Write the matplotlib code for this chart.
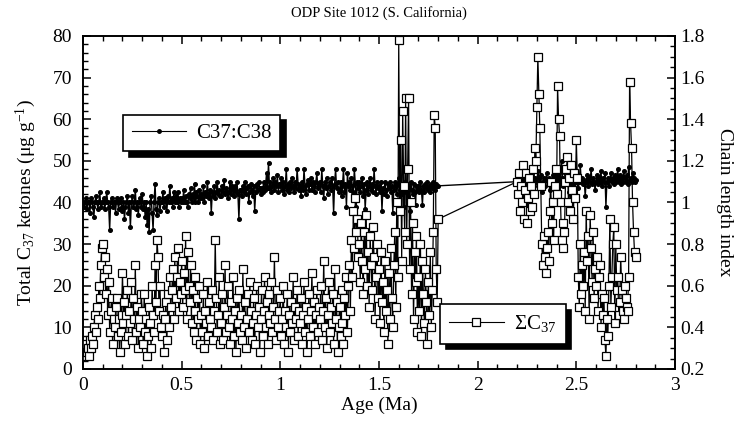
"""ODP Site 1012 alkenone record: total C37 ketones and C37:C38 chain length index."""
import matplotlib
matplotlib.use("Agg")
import matplotlib.pyplot as plt
from matplotlib.ticker import MultipleLocator
from matplotlib.lines import Line2D

plt.rcParams["font.family"] = ["Liberation Serif", "DejaVu Serif"]
plt.rcParams["mathtext.fontset"] = "custom"
plt.rcParams["mathtext.rm"] = "Liberation Serif"
plt.rcParams["mathtext.it"] = "Liberation Serif:italic"
plt.rcParams["mathtext.bf"] = "Liberation Serif:bold"

# sample ages (Ma)
AGE = [
    0.000, 0.005, 0.010, 0.015, 0.020, 0.025, 0.030, 0.035, 0.040, 0.045,
    0.050, 0.055, 0.060, 0.065, 0.070, 0.075, 0.080, 0.085, 0.090, 0.095,
    0.100, 0.105, 0.110, 0.115, 0.120, 0.125, 0.130, 0.135, 0.140, 0.145,
    0.150, 0.155, 0.160, 0.165, 0.170, 0.175, 0.180, 0.185, 0.190, 0.195,
    0.200, 0.205, 0.210, 0.215, 0.220, 0.225, 0.230, 0.235, 0.240, 0.245,
    0.250, 0.255, 0.260, 0.265, 0.270, 0.275, 0.280, 0.285, 0.290, 0.295,
    0.300, 0.305, 0.310, 0.315, 0.320, 0.325, 0.330, 0.335, 0.340, 0.345,
    0.350, 0.355, 0.360, 0.365, 0.370, 0.375, 0.380, 0.385, 0.390, 0.395,
    0.400, 0.405, 0.410, 0.415, 0.420, 0.425, 0.430, 0.435, 0.440, 0.445,
    0.450, 0.455, 0.460, 0.465, 0.470, 0.475, 0.480, 0.485, 0.490, 0.495,
    0.500, 0.505, 0.510, 0.515, 0.520, 0.525, 0.530, 0.535, 0.540, 0.545,
    0.550, 0.555, 0.560, 0.565, 0.570, 0.575, 0.580, 0.585, 0.590, 0.595,
    0.600, 0.605, 0.610, 0.615, 0.620, 0.625, 0.630, 0.635, 0.640, 0.645,
    0.650, 0.655, 0.660, 0.665, 0.670, 0.675, 0.680, 0.685, 0.690, 0.695,
    0.700, 0.705, 0.710, 0.715, 0.720, 0.725, 0.730, 0.735, 0.740, 0.745,
    0.750, 0.755, 0.760, 0.765, 0.770, 0.775, 0.780, 0.785, 0.790, 0.795,
    0.800, 0.805, 0.810, 0.815, 0.820, 0.825, 0.830, 0.835, 0.840, 0.845,
    0.850, 0.855, 0.860, 0.865, 0.870, 0.875, 0.880, 0.885, 0.890, 0.895,
    0.900, 0.905, 0.910, 0.915, 0.920, 0.925, 0.930, 0.935, 0.940, 0.945,
    0.950, 0.955, 0.960, 0.965, 0.970, 0.975, 0.980, 0.985, 0.990, 0.995,
    1.000, 1.005, 1.010, 1.015, 1.020, 1.025, 1.030, 1.035, 1.040, 1.045,
    1.050, 1.055, 1.060, 1.065, 1.070, 1.075, 1.080, 1.085, 1.090, 1.095,
    1.100, 1.105, 1.110, 1.115, 1.120, 1.125, 1.130, 1.135, 1.140, 1.145,
    1.150, 1.155, 1.160, 1.165, 1.170, 1.175, 1.180, 1.185, 1.190, 1.195,
    1.200, 1.205, 1.210, 1.215, 1.220, 1.225, 1.230, 1.235, 1.240, 1.245,
    1.250, 1.255, 1.260, 1.265, 1.270, 1.275, 1.280, 1.285, 1.290, 1.295,
    1.300, 1.305, 1.310, 1.315, 1.320, 1.325, 1.330, 1.335, 1.340, 1.345,
    1.350, 1.355, 1.360, 1.365, 1.370, 1.375, 1.380, 1.385, 1.390, 1.395,
    1.400, 1.405, 1.410, 1.415, 1.420, 1.425, 1.430, 1.435, 1.440, 1.445,
    1.450, 1.455, 1.460, 1.465, 1.470, 1.475, 1.480, 1.485, 1.490, 1.495,
    1.500, 1.505, 1.510, 1.515, 1.520, 1.525, 1.530, 1.535, 1.540, 1.545,
    1.550, 1.555, 1.560, 1.565, 1.570, 1.575, 1.580, 1.585, 1.590, 1.595,
    1.600, 1.605, 1.610, 1.615, 1.620, 1.625, 1.630, 1.635, 1.640, 1.645,
    1.650, 1.655, 1.660, 1.665, 1.670, 1.675, 1.680, 1.685, 1.690, 1.695,
    1.700, 1.705, 1.710, 1.715, 1.720, 1.725, 1.730, 1.735, 1.740, 1.745,
    1.750, 1.755, 1.760, 1.765, 1.770, 1.775, 1.780, 1.785, 1.790, 1.795,
    1.800,
    2.200, 2.205, 2.210, 2.215, 2.220, 2.225, 2.230, 2.235, 2.240, 2.245,
    2.250, 2.255, 2.260, 2.265, 2.270, 2.275, 2.280, 2.285, 2.290, 2.295,
    2.300, 2.305, 2.310, 2.315, 2.320, 2.325, 2.330, 2.335, 2.340, 2.345,
    2.350, 2.355, 2.360, 2.365, 2.370, 2.375, 2.380, 2.385, 2.390, 2.395,
    2.400, 2.405, 2.410, 2.415, 2.420, 2.425, 2.430, 2.435, 2.440, 2.445,
    2.450, 2.455, 2.460, 2.465, 2.470, 2.475, 2.480, 2.485, 2.490, 2.495,
    2.500, 2.505, 2.510, 2.515, 2.520, 2.525, 2.530, 2.535, 2.540, 2.545,
    2.550, 2.555, 2.560, 2.565, 2.570, 2.575, 2.580, 2.585, 2.590, 2.595,
    2.600, 2.605, 2.610, 2.615, 2.620, 2.625, 2.630, 2.635, 2.640, 2.645,
    2.650, 2.655, 2.660, 2.665, 2.670, 2.675, 2.680, 2.685, 2.690, 2.695,
    2.700, 2.705, 2.710, 2.715, 2.720, 2.725, 2.730, 2.735, 2.740, 2.745,
    2.750, 2.755, 2.760, 2.765, 2.770, 2.775, 2.780, 2.785, 2.790, 2.795,
    2.800,
]

# total C37 ketones (ug/g), left axis
SUM_C37 = [
    5, 4, 3, 6, 4, 5, 3, 7, 5, 8, 6, 10, 13, 9, 15, 12, 20, 17, 25, 29,
    30, 22, 27, 18, 24, 13, 21, 9, 14, 17, 6, 12, 10, 15, 17, 8, 12, 4, 9, 13,
    23, 11, 16, 6, 13, 19, 8, 14, 11, 21, 7, 17, 12, 25, 9, 15, 5, 12, 10, 18,
    14, 6, 18, 9, 12, 3, 8, 15, 11, 5, 20, 13, 9, 25, 16, 31, 27, 14, 20, 10,
    8, 13, 4, 12, 16, 7, 18, 10, 22, 15, 19, 24, 12, 27, 17, 22, 29, 14, 21, 18,
    26, 15, 23, 19, 32, 12, 28, 20, 16, 25, 11, 19, 9, 22, 14, 7, 17, 12, 20, 6,
    13, 9, 18, 5, 14, 11, 21, 8, 16, 12, 10, 19, 7, 14, 31, 17, 9, 13, 22, 6,
    11, 18, 7, 15, 25, 9, 13, 20, 10, 6, 16, 12, 22, 8, 14, 4, 17, 11, 19, 9,
    13, 7, 24, 10, 16, 5, 12, 18, 9, 21, 14, 7, 11, 17, 6, 13, 20, 10, 15, 4,
    12, 19, 8, 14, 22, 10, 16, 6, 13, 18, 11, 21, 9, 15, 27, 12, 7, 19, 10, 14,
    17, 8, 12, 20, 6, 14, 10, 18, 4, 13, 9, 16, 11, 22, 7, 15, 12, 19, 8, 14,
    11, 17, 6, 13, 21, 9, 15, 4, 12, 18, 8, 14, 23, 10, 16, 6, 13, 19, 9, 15,
    12, 20, 7, 14, 26, 10, 17, 5, 13, 21, 9, 15, 11, 18, 6, 24, 12, 16, 4, 10,
    15, 8, 19, 11, 6, 17, 13, 22, 9, 20, 25, 14, 31, 22, 38, 29, 41, 33, 36, 27,
    30, 21, 35, 26, 18, 33, 24, 37, 20, 28, 15, 32, 25, 19, 34, 27, 12, 22, 30, 17,
    24, 11, 28, 16, 21, 9, 26, 14, 19, 6, 23, 12, 29, 17, 10, 25, 33, 15, 40, 22,
    79, 38, 55, 26, 62, 44, 33, 65, 30, 48, 65, 24, 40, 18, 35, 12, 28, 21, 32, 9,
    22, 14, 30, 8, 26, 18, 11, 24, 16, 6, 21, 13, 28, 10, 19, 33, 61, 58, 24, 16,
    36,
    45, 42, 47, 38, 44, 40, 49, 36, 43, 47, 35, 41, 46, 38, 44, 39, 48, 42, 53, 50,
    63, 75, 66, 58, 44, 30, 25, 32, 27, 23, 29, 33, 26, 38, 45, 35, 40, 31, 44, 48,
    42, 68, 60, 56, 40, 31, 35, 29, 33, 45, 48, 51, 40, 46, 38, 49, 43, 36, 47, 41,
    55, 46, 22, 15, 30, 18, 25, 20, 28, 14, 38, 26, 32, 12, 37, 29, 21, 33, 17, 24,
    20, 27, 14, 22, 25, 10, 18, 13, 17, 7, 3, 12, 8, 20, 36, 15, 22, 30, 34, 11,
    30, 19, 22, 13, 16, 27, 19, 14, 12, 20, 17, 15, 14, 22, 69, 59, 53, 40, 33, 28,
    27,
]

# C37:C38 chain length index, right axis
CLI = [
    1.00, 0.98, 1.00, 1.02, 0.97, 1.00, 1.00, 0.95, 1.02, 1.00,
    0.98, 0.93, 1.00, 1.03, 1.00, 0.97, 1.00, 1.05, 0.98, 1.00,
    1.00, 1.02, 0.97, 1.00, 1.05, 1.00, 0.98, 0.87, 1.00, 1.02,
    0.98, 1.00, 1.00, 0.95, 1.02, 1.00, 0.97, 1.00, 1.02, 0.98,
    0.96, 1.00, 0.92, 0.98, 1.00, 1.03, 0.95, 1.00, 0.88, 1.00,
    1.03, 0.98, 1.00, 1.06, 0.97, 1.00, 0.94, 1.00, 1.02, 0.98,
    1.04, 0.97, 1.00, 0.93, 1.00, 0.89, 0.97, 0.86, 1.00, 1.03,
    0.95, 0.87, 1.00, 1.09, 0.97, 0.94, 1.00, 1.02, 0.96, 1.00,
    1.00, 1.05, 0.98, 1.02, 1.00, 0.96, 1.03, 1.00, 1.08, 1.00,
    1.02, 0.98, 1.05, 1.00, 1.03, 1.00, 1.05, 0.98, 1.02, 1.00,
    1.02, 1.00, 1.06, 1.00, 1.03, 1.00, 0.98, 1.04, 1.02, 1.07,
    1.00, 1.04, 1.02, 1.09, 1.00, 1.05, 1.03, 1.00, 1.06, 1.02,
    1.04, 1.02, 1.08, 1.00, 1.05, 1.03, 1.10, 1.04, 1.02, 1.06,
    0.95, 1.05, 1.03, 1.08, 1.02, 1.05, 1.10, 1.04, 1.06, 1.03,
    1.03, 1.08, 1.05, 1.11, 1.04, 1.07, 1.05, 1.02, 1.05, 1.10,
    1.04, 1.08, 1.06, 1.03, 1.08, 1.05, 1.10, 1.04, 0.92, 1.06,
    1.06, 1.03, 1.08, 1.05, 1.10, 1.04, 1.07, 1.08, 1.00, 1.05,
    1.09, 1.06, 1.03, 1.08, 0.96, 1.05, 1.09, 1.06, 1.10, 1.07,
    1.04, 1.07, 1.05, 1.10, 1.06, 1.08, 1.14, 1.07, 1.19, 1.07,
    1.10, 1.05, 1.08, 1.12, 1.06, 1.10, 1.08, 1.13, 1.05, 1.09,
    1.08, 1.12, 1.06, 1.10, 1.04, 1.08, 1.16, 1.06, 1.09, 1.05,
    1.10, 1.07, 1.12, 1.08, 1.05, 1.10, 1.07, 1.16, 1.09, 1.06,
    1.08, 1.03, 1.10, 1.06, 1.16, 1.08, 1.04, 1.09, 1.11, 1.06,
    1.09, 1.12, 1.06, 1.10, 1.08, 1.05, 1.10, 1.14, 1.07, 1.09,
    1.10, 1.05, 1.16, 1.08, 1.02, 1.10, 1.07, 1.12, 1.04, 1.08,
    1.10, 1.06, 1.12, 1.08, 0.95, 1.09, 1.16, 1.07, 1.10, 1.05,
    1.06, 1.10, 1.03, 1.08, 1.16, 1.05, 1.09, 0.98, 1.14, 1.08,
    1.10, 1.06, 1.12, 1.08, 1.05, 1.16, 1.09, 0.98, 1.10, 1.07,
    1.10, 1.05, 1.08, 1.12, 1.03, 1.09, 0.97, 1.06, 1.10, 1.04,
    1.08, 1.12, 1.06, 1.09, 1.05, 1.16, 1.08, 1.04, 1.10, 1.07,
    1.08, 1.05, 1.10, 0.96, 1.07, 1.04, 1.10, 1.06, 1.03, 1.09,
    1.07, 1.10, 1.05, 1.08, 0.95, 1.06, 1.10, 1.08, 1.04, 1.09,
    1.12, 1.06, 1.09, 1.04, 1.08, 0.98, 1.10, 1.05, 1.07, 1.03,
    1.08, 0.96, 1.10, 1.06, 1.04, 1.09, 1.05, 0.99, 1.08, 1.06,
    1.08, 1.05, 1.10, 1.06, 0.99, 1.08, 1.05, 1.09, 1.07, 1.10,
    1.06, 1.08, 1.05, 1.09, 1.07, 1.10, 1.08, 1.06, 1.09, 1.08,
    1.08,
    1.10, 1.12, 1.08, 1.14, 1.10, 1.16, 1.10, 1.13, 1.09, 1.12,
    1.06, 1.11, 1.14, 1.09, 1.12, 1.10, 1.15, 1.08, 1.12, 1.10,
    1.10, 1.15, 1.12, 1.09, 1.13, 1.05, 1.10, 1.12, 1.08, 1.11,
    1.14, 1.10, 1.12, 1.06, 1.11, 1.09, 1.13, 1.10, 1.12, 1.08,
    1.10, 1.13, 1.08, 1.12, 1.10, 1.20, 1.12, 1.08, 1.10, 1.14,
    1.09, 1.12, 1.10, 1.05, 1.13, 1.10, 1.12, 1.08, 1.11, 1.14,
    1.10, 1.12, 1.07, 1.10, 1.18, 1.10, 1.12, 1.09, 1.11, 1.03,
    1.10, 1.13, 1.08, 1.12, 1.10, 1.16, 1.09, 1.12, 1.10, 1.06,
    1.10, 1.13, 1.09, 1.12, 1.10, 1.15, 1.08, 1.12, 1.10, 1.14,
    0.98, 1.10, 1.12, 1.08, 1.11, 1.14, 1.10, 1.12, 1.09, 1.13,
    1.10, 1.12, 1.16, 1.10, 1.13, 1.09, 1.12, 1.10, 1.15, 1.12,
    1.10, 1.13, 1.09, 1.17, 1.11, 1.12, 1.10, 1.14, 1.12, 1.10,
    1.11,
]

X_TICKS = [0, 0.5, 1, 1.5, 2, 2.5, 3]
RIGHT_TICKS = [0.2, 0.4, 0.6, 0.8, 1, 1.2, 1.4, 1.6, 1.8]

fig = plt.figure(figsize=(7.38, 4.29), dpi=100)
ax = fig.add_axes([0.1125, 0.1399, 0.8021, 0.7762])
ax2 = ax.twinx()
ax.set_zorder(ax2.get_zorder() + 1)
ax.patch.set_visible(False)

ax2.plot(AGE, CLI, color="k", lw=1.0, marker="o", ms=2.6, mfc="k", mec="k")
ax.plot(AGE, SUM_C37, color="k", lw=0.9, marker="s", ms=5.5, mfc="white",
        mec="k", mew=0.9)

ax.set_xlim(0, 3)
ax.set_ylim(0, 80)
ax2.set_ylim(0.2, 1.8)

ax.set_xticks(X_TICKS)
ax.set_xticklabels([f"{t:g}" for t in X_TICKS])
ax.xaxis.set_minor_locator(MultipleLocator(0.1))
ax.yaxis.set_major_locator(MultipleLocator(10))
ax.yaxis.set_minor_locator(MultipleLocator(2))
ax2.set_yticks(RIGHT_TICKS)
ax2.set_yticklabels([f"{t:g}" for t in RIGHT_TICKS])
ax2.yaxis.set_minor_locator(MultipleLocator(0.05))
ax.set_xlim(0, 3)
ax2.set_ylim(0.2, 1.8)

for a in (ax, ax2):
    for s in a.spines.values():
        s.set_linewidth(1.2)
ax.tick_params(axis="x", which="both", direction="in", top=True, labelsize=14, pad=6)
ax.tick_params(axis="y", which="both", direction="in", right=False, labelsize=14, pad=8)
ax2.tick_params(axis="y", which="both", direction="in", labelsize=14, pad=4)
for a in (ax, ax2):
    a.tick_params(which="major", length=6, width=1.1)
    a.tick_params(which="minor", length=3.5, width=1.0)

ax.set_title("ODP Site 1012 (S. California)", fontsize=10.5, pad=14)
ax.set_xlabel("Age (Ma)", fontsize=14, labelpad=2)
ax.set_ylabel("Total C$_{37}$ ketones (μg g$^{-1}$)", fontsize=14, labelpad=10)
ax2.set_ylabel("Chain length index", fontsize=14, rotation=270, labelpad=20)

h_cli = Line2D([], [], color="k", lw=0.8, marker="o", ms=2.5)
h_sum = Line2D([], [], color="k", lw=0.8, marker="s", ms=5.5, mfc="white", mew=0.9)
shadow = {"ox": 4, "oy": -4, "facecolor": "k", "edgecolor": "k", "alpha": 1}

leg1 = ax.legend([h_cli], ["C37:C38"], loc="upper left", bbox_to_anchor=(0.068, 0.763),
                 borderaxespad=0, fontsize=15, handlelength=2.6, handletextpad=0.5,
                 borderpad=0.4, fancybox=False, framealpha=1, edgecolor="k", shadow=shadow)
leg1.get_frame().set_linewidth(1.2)
ax.add_artist(leg1)
leg2 = ax.legend([h_sum], ["ΣC$_{37}$"], loc="upper left", bbox_to_anchor=(0.603, 0.195),
                 borderaxespad=0, fontsize=15, handlelength=2.6, handletextpad=0.5,
                 borderpad=0.45, fancybox=False, framealpha=1, edgecolor="k", shadow=shadow)
leg2.get_frame().set_linewidth(1.2)

fig.savefig("out.png", dpi=100)
